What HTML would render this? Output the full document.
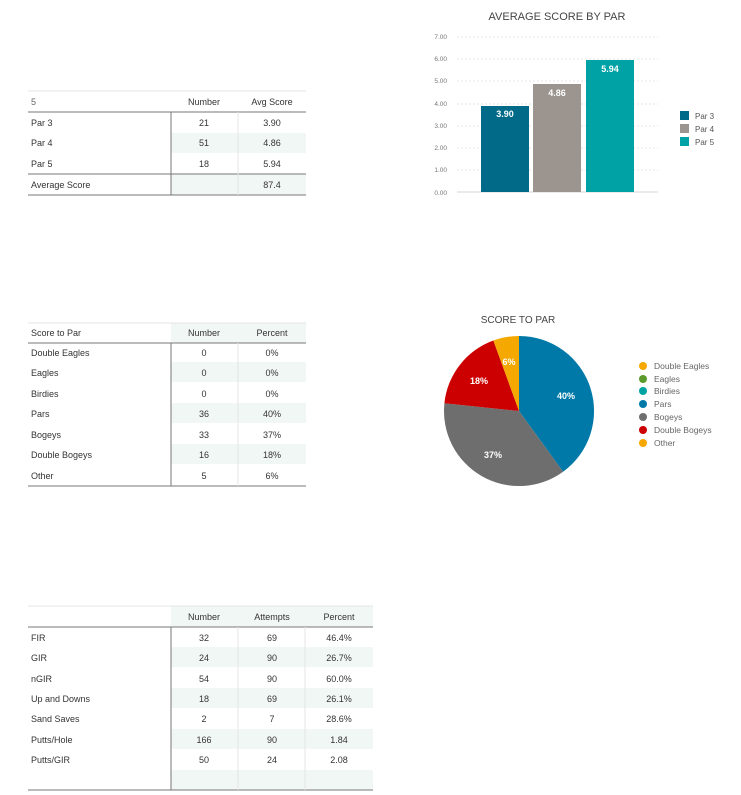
<!DOCTYPE html>
<html><head><meta charset="utf-8"><style>
html,body{margin:0;padding:0;background:#fff;}
svg{display:block;font-family:"Liberation Sans",sans-serif;}
</style></head><body>
<svg width="741" height="795" viewBox="0 0 741 795" xmlns="http://www.w3.org/2000/svg">
<!-- Table 1 -->
<g font-size="9" fill="#333">
<rect x="171" y="133" width="135" height="20" fill="#f1f7f4"/>
<rect x="171" y="174" width="135" height="21" fill="#f1f7f4"/>
<line x1="28" y1="91" x2="306" y2="91" stroke="#e4e4e4"/>
<line x1="28" y1="112" x2="306" y2="112" stroke="#777"/>
<line x1="28" y1="174" x2="306" y2="174" stroke="#777"/>
<line x1="28" y1="195" x2="306" y2="195" stroke="#777"/>
<line x1="171" y1="112" x2="171" y2="195" stroke="#777"/>
<line x1="238" y1="112" x2="238" y2="195" stroke="#e4e4e4"/>
<text x="31" y="105" fill="#666">5</text>
<text x="204" y="105" text-anchor="middle">Number</text>
<text x="272" y="105" text-anchor="middle">Avg Score</text>
<text x="31" y="126">Par 3</text><text x="204" y="126" text-anchor="middle">21</text><text x="272" y="126" text-anchor="middle">3.90</text>
<text x="31" y="146">Par 4</text><text x="204" y="146" text-anchor="middle">51</text><text x="272" y="146" text-anchor="middle">4.86</text>
<text x="31" y="167">Par 5</text><text x="204" y="167" text-anchor="middle">18</text><text x="272" y="167" text-anchor="middle">5.94</text>
<text x="31" y="188">Average Score</text><text x="272" y="188" text-anchor="middle">87.4</text>
</g>
<!-- Table 2 -->
<g font-size="9" fill="#333">
<rect x="171" y="323" width="135" height="20" fill="#f1f7f4"/>
<rect x="171" y="362" width="135" height="20" fill="#f1f7f4"/>
<rect x="171" y="403" width="135" height="20" fill="#f1f7f4"/>
<rect x="171" y="444" width="135" height="20" fill="#f1f7f4"/>
<line x1="28" y1="323" x2="306" y2="323" stroke="#e4e4e4"/>
<line x1="28" y1="343" x2="306" y2="343" stroke="#777"/>
<line x1="28" y1="486" x2="306" y2="486" stroke="#777"/>
<line x1="171" y1="343" x2="171" y2="486" stroke="#777"/>
<line x1="238" y1="343" x2="238" y2="486" stroke="#e4e4e4"/>
<text x="31" y="336">Score to Par</text>
<text x="204" y="336" text-anchor="middle">Number</text>
<text x="272" y="336" text-anchor="middle">Percent</text>
<text x="31" y="356">Double Eagles</text><text x="204" y="356" text-anchor="middle">0</text><text x="272" y="356" text-anchor="middle">0%</text>
<text x="31" y="376">Eagles</text><text x="204" y="376" text-anchor="middle">0</text><text x="272" y="376" text-anchor="middle">0%</text>
<text x="31" y="397">Birdies</text><text x="204" y="397" text-anchor="middle">0</text><text x="272" y="397" text-anchor="middle">0%</text>
<text x="31" y="417">Pars</text><text x="204" y="417" text-anchor="middle">36</text><text x="272" y="417" text-anchor="middle">40%</text>
<text x="31" y="438">Bogeys</text><text x="204" y="438" text-anchor="middle">33</text><text x="272" y="438" text-anchor="middle">37%</text>
<text x="31" y="458">Double Bogeys</text><text x="204" y="458" text-anchor="middle">16</text><text x="272" y="458" text-anchor="middle">18%</text>
<text x="31" y="479">Other</text><text x="204" y="479" text-anchor="middle">5</text><text x="272" y="479" text-anchor="middle">6%</text>
</g>
<!-- Table 3 -->
<g font-size="9" fill="#333">
<rect x="171" y="606" width="202" height="21" fill="#f1f7f4"/>
<rect x="171" y="647" width="202" height="20" fill="#f1f7f4"/>
<rect x="171" y="688" width="202" height="20" fill="#f1f7f4"/>
<rect x="171" y="729" width="202" height="20" fill="#f1f7f4"/>
<rect x="171" y="770" width="202" height="20" fill="#f1f7f4"/>
<line x1="28" y1="606" x2="373" y2="606" stroke="#e4e4e4"/>
<line x1="28" y1="627" x2="373" y2="627" stroke="#777"/>
<line x1="28" y1="790" x2="373" y2="790" stroke="#777"/>
<line x1="171" y1="627" x2="171" y2="790" stroke="#777"/>
<line x1="238" y1="627" x2="238" y2="790" stroke="#e4e4e4"/>
<line x1="305" y1="627" x2="305" y2="790" stroke="#e4e4e4"/>
<text x="204" y="620" text-anchor="middle">Number</text>
<text x="272" y="620" text-anchor="middle">Attempts</text>
<text x="339" y="620" text-anchor="middle">Percent</text>
<g>
<text x="31" y="641">FIR</text><text x="204" y="641" text-anchor="middle">32</text><text x="272" y="641" text-anchor="middle">69</text><text x="339" y="641" text-anchor="middle">46.4%</text>
<text x="31" y="661">GIR</text><text x="204" y="661" text-anchor="middle">24</text><text x="272" y="661" text-anchor="middle">90</text><text x="339" y="661" text-anchor="middle">26.7%</text>
<text x="31" y="682">nGIR</text><text x="204" y="682" text-anchor="middle">54</text><text x="272" y="682" text-anchor="middle">90</text><text x="339" y="682" text-anchor="middle">60.0%</text>
<text x="31" y="702">Up and Downs</text><text x="204" y="702" text-anchor="middle">18</text><text x="272" y="702" text-anchor="middle">69</text><text x="339" y="702" text-anchor="middle">26.1%</text>
<text x="31" y="722">Sand Saves</text><text x="204" y="722" text-anchor="middle">2</text><text x="272" y="722" text-anchor="middle">7</text><text x="339" y="722" text-anchor="middle">28.6%</text>
<text x="31" y="743">Putts/Hole</text><text x="204" y="743" text-anchor="middle">166</text><text x="272" y="743" text-anchor="middle">90</text><text x="339" y="743" text-anchor="middle">1.84</text>
<text x="31" y="763">Putts/GIR</text><text x="204" y="763" text-anchor="middle">50</text><text x="272" y="763" text-anchor="middle">24</text><text x="339" y="763" text-anchor="middle">2.08</text>
</g>
</g>
<!-- Bar chart -->
<text x="557" y="20" font-size="11" fill="#444" text-anchor="middle">AVERAGE SCORE BY PAR</text>
<g font-size="6.5" fill="#777" text-anchor="end">
<text x="447" y="39">7.00</text><text x="447" y="61">6.00</text><text x="447" y="83">5.00</text><text x="447" y="106">4.00</text>
<text x="447" y="128">3.00</text><text x="447" y="150">2.00</text><text x="447" y="172">1.00</text><text x="447" y="195">0.00</text>
</g>
<g stroke="#e6e6e6" stroke-dasharray="2,2">
<line x1="457" y1="37" x2="658" y2="37"/><line x1="457" y1="59" x2="658" y2="59"/><line x1="457" y1="81" x2="658" y2="81"/>
<line x1="457" y1="104" x2="658" y2="104"/><line x1="457" y1="126" x2="658" y2="126"/><line x1="457" y1="148" x2="658" y2="148"/>
<line x1="457" y1="170" x2="658" y2="170"/>
</g>
<line x1="457" y1="192" x2="658" y2="192" stroke="#d4d4d4"/>
<rect x="481" y="106" width="48" height="86" fill="#006a88"/>
<rect x="533" y="84" width="48" height="108" fill="#9c958f"/>
<rect x="586" y="60" width="48" height="132" fill="#00a2a6"/>
<g font-size="9" font-weight="bold" fill="#fff" text-anchor="middle">
<text x="505" y="117">3.90</text><text x="557" y="96">4.86</text><text x="610" y="72">5.94</text>
</g>
<rect x="680" y="111" width="9" height="9" fill="#006a88"/>
<rect x="680" y="124" width="9" height="9" fill="#9c958f"/>
<rect x="680" y="137" width="9" height="9" fill="#00a2a6"/>
<g font-size="8" fill="#555"><text x="695" y="119">Par 3</text><text x="695" y="132">Par 4</text><text x="695" y="145">Par 5</text></g>
<!-- Pie -->
<text x="518" y="323" font-size="10" fill="#444" text-anchor="middle">SCORE TO PAR</text>
<path d="M519,411 L519,336 A75,75 0 0 1 563.1,471.7 Z" fill="#0079a8"/>
<path d="M519,411 L563.1,471.7 A75,75 0 0 1 444.4,403.2 Z" fill="#6e6e6e"/>
<path d="M519,411 L444.4,403.2 A75,75 0 0 1 493.35,340.5 Z" fill="#cc0000"/>
<path d="M519,411 L493.35,340.5 A75,75 0 0 1 519,336 Z" fill="#f5a800"/>
<g font-size="9" font-weight="bold" fill="#fff" text-anchor="middle">
<text x="566" y="399">40%</text><text x="493" y="458">37%</text><text x="479" y="384">18%</text><text x="509" y="365">6%</text>
</g>
<circle cx="643" cy="366" r="4" fill="#f5a800"/>
<circle cx="643" cy="379" r="4" fill="#5a9a2a"/>
<circle cx="643" cy="391" r="4" fill="#00a3a3"/>
<circle cx="643" cy="404" r="4" fill="#0079a8"/>
<circle cx="643" cy="417" r="4" fill="#6e6e6e"/>
<circle cx="643" cy="430" r="4" fill="#cc0000"/>
<circle cx="643" cy="443" r="4" fill="#f5a800"/>
<g font-size="8.5" fill="#666">
<text x="654" y="369">Double Eagles</text><text x="654" y="382">Eagles</text><text x="654" y="394">Birdies</text>
<text x="654" y="407">Pars</text><text x="654" y="420">Bogeys</text><text x="654" y="433">Double Bogeys</text><text x="654" y="446">Other</text>
</g>
</svg>
</body></html>
